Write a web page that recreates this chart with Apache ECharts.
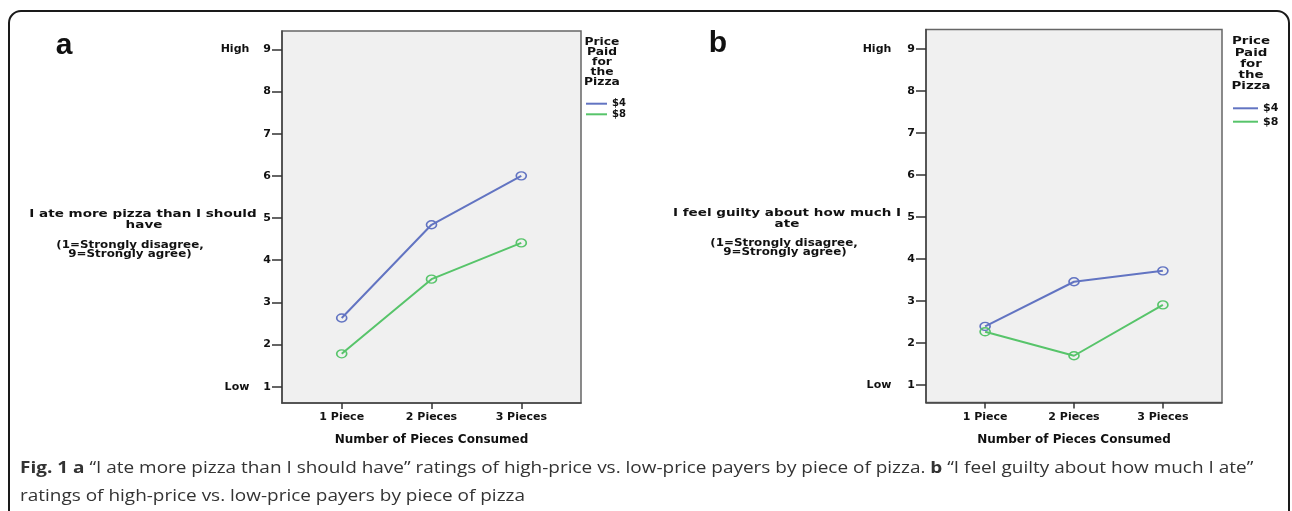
<!DOCTYPE html>
<html>
<head>
<meta charset="utf-8">
<script src="https://cdn.jsdelivr.net/npm/echarts@6/dist/echarts.min.js"></script>
<style>
html,body{margin:0;padding:0;background:#fff;}
#chart{width:1292px;height:511px;}
</style>
</head>
<body>
<div id="chart"></div>
<script>
// ---- data ----
const categories = ['1 Piece', '2 Pieces', '3 Pieces'];
const seriesNames = ['$4', '$8'];
const ateMore4 = [2.63, 4.84, 6.00];
const ateMore8 = [1.78, 3.55, 4.41];
const guilty4 = [2.40, 3.46, 3.72];
const guilty8 = [2.27, 1.70, 2.91];
const yTickValues = [1, 2, 3, 4, 5, 6, 7, 8, 9];
const yEndLabels = { 9: 'High', 1: 'Low' };
const xTitle = 'Number of Pieces Consumed';
const legendTitle = 'Price\nPaid\nfor\nthe\nPizza';
const yTitleA = ['I ate more pizza than I should', 'have'];
const ySubA = ['(1=Strongly disagree,', '9=Strongly agree)'];
const yTitleB = ['I feel guilty about how much I', 'ate'];
const ySubB = ['(1=Strongly disagree,', '9=Strongly agree)'];
const captionLine1 = ['Fig. 1 a', ' “I ate more pizza than I should have” ratings of high-price vs. low-price payers by piece of pizza. ', 'b', ' “I feel guilty about how much I ate”'];
const captionLine2 = 'ratings of high-price vs. low-price payers by piece of pizza';

// ---- styling ----
const SP = 'DejaVu Sans';
const BLUE = '#6274c2';
const GREEN = '#57c46a';
const INK = '#111';

const chart = echarts.init(document.getElementById('chart'), null, { renderer: 'canvas' });

function toPoints(vals) { return vals.map((v, i) => [i + 1, v]); }

function xAxisCfg(gi) {
  return {
    type: 'value', gridIndex: gi, min: 0.335, max: 3.665,
    splitLine: { show: false },
    axisLine: { show: true, lineStyle: { color: '#444', width: 1.5 } },
    axisTick: { show: true, length: 6, customValues: [1, 2, 3], lineStyle: { color: '#333', width: 1.5 } },
    axisLabel: {
      customValues: [1, 2, 3], margin: 9,
      formatter: v => categories[Math.round(v) - 1] || '',
      fontFamily: SP, fontWeight: 'bold', fontSize: 11, color: INK
    },
    name: xTitle, nameLocation: 'middle', nameGap: 31,
    nameTextStyle: { fontFamily: SP, fontWeight: 'bold', fontSize: 12, color: INK }
  };
}
function yAxisCfg(gi, min, max, gap) {
  return {
    type: 'value', gridIndex: gi, min: min, max: max,
    splitLine: { show: false },
    axisLine: { show: true, lineStyle: { color: '#444', width: 1.5 } },
    axisTick: { show: true, length: 10, customValues: yTickValues, lineStyle: { color: '#333', width: 1.5 } },
    axisLabel: {
      customValues: yTickValues, margin: 11,
      formatter: v => yEndLabels[v] ? '{w|' + yEndLabels[v] + '}{n|' + v + '}' : '{n|' + v + '}',
      rich: {
        w: { fontFamily: SP, fontWeight: 'bold', fontSize: 11, color: INK, padding: [0, gap, 0, 0] },
        n: { fontFamily: SP, fontWeight: 'bold', fontSize: 11, color: INK }
      }
    }
  };
}
function lineSeries(name, xi, vals, color) {
  return {
    type: 'line', name: name, xAxisIndex: xi, yAxisIndex: xi,
    data: toPoints(vals),
    symbol: 'circle', symbolSize: [10, 8],
    lineStyle: { color: color, width: 2 },
    itemStyle: { color: 'rgba(0,0,0,0)', borderColor: color, borderWidth: 1.5 },
    emphasis: { disabled: true },
    z: 3
  };
}
function txt(x, y, text, size, sx, opts) {
  opts = opts || {};
  return {
    type: 'text', x: x, y: y, scaleX: sx, silent: true,
    style: Object.assign({
      text: text, fontFamily: SP, fontWeight: 'bold', fontSize: size, fill: INK,
      align: 'center', verticalAlign: 'middle'
    }, opts)
  };
}
function legendCfg(left, top, iw, fs, lh) {
  return {
    orient: 'vertical', left: left, top: top, itemWidth: iw, itemHeight: 2, itemGap: 0,
    icon: 'rect', selectedMode: false,
    data: [
      { name: seriesNames[0], itemStyle: { color: BLUE, borderWidth: 0 } },
      { name: seriesNames[1], itemStyle: { color: GREEN, borderWidth: 0 } }
    ],
    textStyle: { fontFamily: SP, fontWeight: 'bold', fontSize: fs, lineHeight: lh, color: INK }
  };
}

const option = {
  backgroundColor: '#fff',
  animation: false,
  grid: [
    { left: 282, top: 31, width: 299, height: 372, show: true, backgroundColor: '#f0f0f0', borderColor: '#666', borderWidth: 1.5 },
    { left: 926, top: 29.5, width: 296, height: 373, show: true, backgroundColor: '#f0f0f0', borderColor: '#666', borderWidth: 1.5 }
  ],
  xAxis: [xAxisCfg(0), xAxisCfg(1)],
  yAxis: [yAxisCfg(0, 0.614, 9.434, 14), yAxisCfg(1, 0.588, 9.461, 16)],
  legend: [
    legendCfg(581, 93.4, 21, 10, 10.6),
    legendCfg(1228, 96.6, 25, 11, 13.4)
  ],
  series: [
    lineSeries(seriesNames[0], 0, ateMore4, BLUE),
    lineSeries(seriesNames[1], 0, ateMore8, GREEN),
    lineSeries(seriesNames[0], 1, guilty4, BLUE),
    lineSeries(seriesNames[1], 1, guilty8, GREEN)
  ],
  graphic: [
    { type: 'rect', silent: true, shape: { x: 9, y: 11, width: 1280, height: 540, r: 12 },
      style: { fill: 'none', stroke: '#1a1a1a', lineWidth: 2 } },
    txt(64, 46, 'a', 30, 1, { fontFamily: 'Liberation Sans' }),
    txt(718, 44, 'b', 30, 1, { fontFamily: 'Liberation Sans' }),
    txt(602, 37, legendTitle, 10.5, 1.17, { verticalAlign: 'top', lineHeight: 10 }),
    txt(1251, 36, legendTitle, 11, 1.22, { verticalAlign: 'top', lineHeight: 11.1 }),
    txt(143, 214, yTitleA[0], 11, 1.23),
    txt(144, 225, yTitleA[1], 11, 1.23),
    txt(130, 245.5, ySubA[0], 11, 1.08),
    txt(130, 254.5, ySubA[1], 11, 1.08),
    txt(787, 213, yTitleB[0], 11, 1.23),
    txt(787, 224, yTitleB[1], 11, 1.23),
    txt(784, 243.5, ySubB[0], 11, 1.08),
    txt(785, 252.5, ySubB[1], 11, 1.08),
    {
      type: 'text', x: 20, y: 468, scaleX: 1.185, silent: true,
      style: {
        text: '{b|' + captionLine1[0] + '}' + captionLine1[1] + '{b|' + captionLine1[2] + '}' + captionLine1[3],
        fontFamily: 'Open Sans', fontSize: 16, fill: '#333', align: 'left', verticalAlign: 'middle',
        rich: { b: { fontFamily: 'Open Sans', fontSize: 16, fontWeight: 'bold', fill: '#333' } }
      }
    },
    {
      type: 'text', x: 20, y: 496, scaleX: 1.185, silent: true,
      style: { text: captionLine2, fontFamily: 'Open Sans', fontSize: 16, fill: '#333', align: 'left', verticalAlign: 'middle' }
    }
  ]
};
chart.setOption(option);
</script>
</body>
</html>
